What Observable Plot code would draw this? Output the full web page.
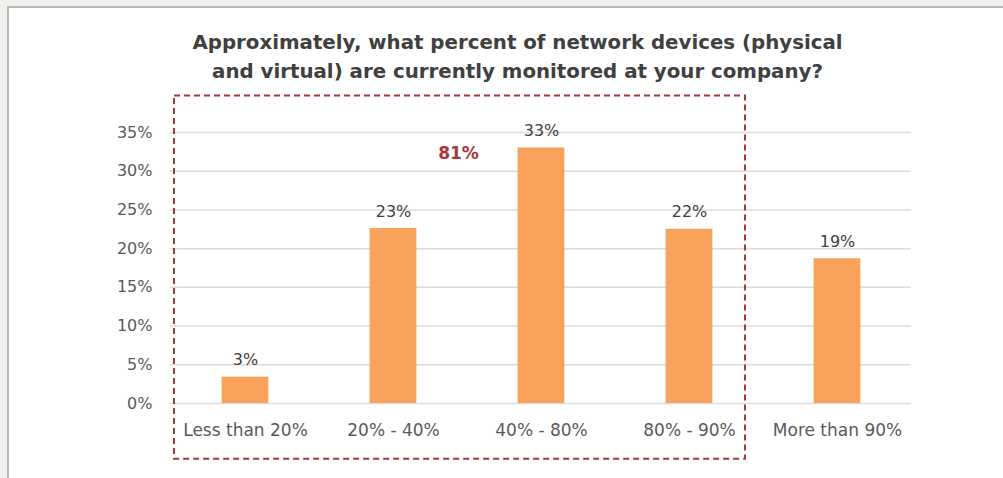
<!DOCTYPE html>
<html>
<head>
<meta charset="utf-8">
<script src="https://cdn.jsdelivr.net/npm/d3@7"></script>
<script src="https://cdn.jsdelivr.net/npm/@observablehq/plot@0.6"></script>
<style>
  html, body { margin: 0; padding: 0; }
  body { width: 1003px; height: 478px; position: relative; overflow: hidden; background: #efefef; font-family: "DejaVu Sans", sans-serif; }
  #frame { position: absolute; left: 7px; top: 6px; width: 996px; height: 472px; background: #fff;
           border-left: 2px solid #bbb7a9; border-top: 2px solid #bbb7a9; box-sizing: border-box; }
  #title { position: absolute; left: 0; top: 28px; width: 1035px; text-align: center;
           font: bold 19.8px "DejaVu Sans", sans-serif; color: #404040; line-height: 29px; }
  #chart { position: absolute; left: 0; top: 90px; }
</style>
</head>
<body>
<div id="frame"></div>
<div id="title">Approximately, what percent of network devices (physical<br>and virtual) are currently monitored at your company?</div>
<div id="chart"></div>
<script>
// ---- data ----
const categories = ["Less than 20%", "20% - 40%", "40% - 80%", "80% - 90%", "More than 90%"];
const values = [0.034, 0.226, 0.330, 0.225, 0.187];
const valueLabels = ["3%", "23%", "33%", "22%", "19%"];
const yTicks = [0, 0.05, 0.10, 0.15, 0.20, 0.25, 0.30, 0.35];
const highlightCategories = ["Less than 20%", "20% - 40%", "40% - 80%", "80% - 90%"];
const highlightLabel = "81%";

const data = categories.map((c, i) => ({cat: c, value: values[i], label: valueLabels[i]}));

const W = 1003, H = 388;

// dashed box around the highlighted categories, positioned from the scales
function highlightBox(index, scales, values, dimensions) {
  const x = scales.x, y = scales.y;
  const bw = x.bandwidth ? x.bandwidth() : 0;
  const x1 = x(highlightCategories[0]) + 3;
  const x2 = x(highlightCategories[highlightCategories.length - 1]) + bw - 18;
  const y1 = y(0.397), y2 = y(-0.072);
  const g = d3.create("svg:g");
  g.append("rect")
    .attr("x", x1).attr("y", y1)
    .attr("width", x2 - x1).attr("height", y2 - y1)
    .attr("fill", "none")
    .attr("stroke", "#a5373a")
    .attr("stroke-width", 2)
    .attr("stroke-dasharray", "6,4");
  return g.node();
}

const chart = Plot.plot({
  width: W,
  height: H,
  marginLeft: 170,
  marginRight: 92,
  marginTop: 42,
  marginBottom: 75,
  style: { fontFamily: "DejaVu Sans, sans-serif", background: "transparent", overflow: "visible" },
  x: { domain: categories, padding: 0 },
  y: { domain: [0, 0.35] },
  marks: [
    Plot.ruleY(yTicks, { stroke: "#dcdcdc", strokeWidth: 1.5 }),
    Plot.barY(data, { x: "cat", y: "value", fill: "#f8a25b", insetLeft: 50.6, insetRight: 50.6 }),
    Plot.text(data, { x: "cat", y: "value", text: "label", dy: -17, fill: "#404040", fontSize: 16 }),
    Plot.text([{cat: "40% - 80%", v: 0.323}], { x: "cat", y: "v", text: () => highlightLabel, dx: -83, fill: "#a5373a", fontWeight: "bold", fontSize: 17 }),
    Plot.axisY({ ticks: yTicks, tickFormat: d3.format(".0%"), tickSize: 0, tickPadding: 18, fontSize: 16, color: "#595959", label: null }),
    Plot.axisX({ tickSize: 0, tickPadding: 20, fontSize: 17, color: "#595959", label: null }),
    highlightBox
  ]
});
document.getElementById("chart").appendChild(chart);
</script>
</body>
</html>
